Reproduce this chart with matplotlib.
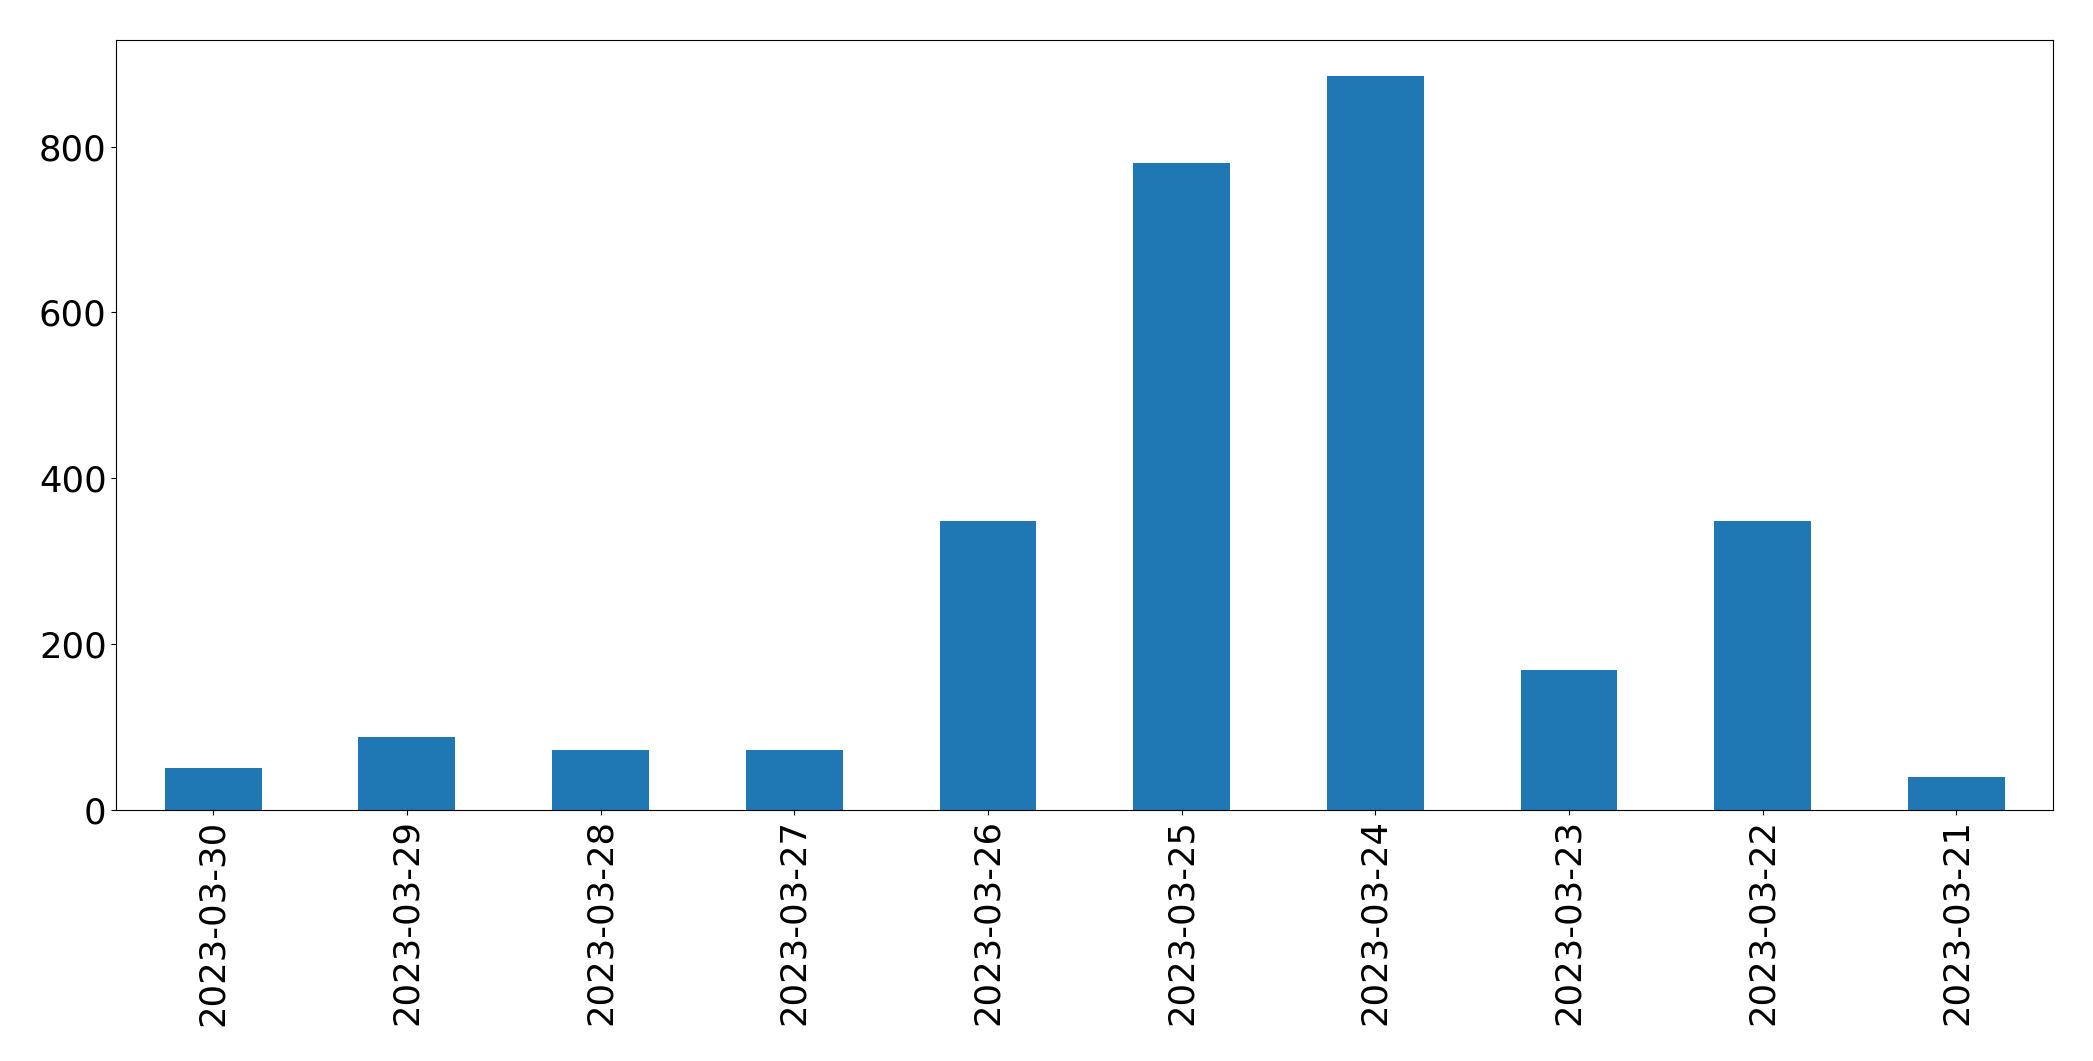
import matplotlib
matplotlib.use("Agg")
import matplotlib.pyplot as plt

dates = ["2023-03-30", "2023-03-29", "2023-03-28", "2023-03-27", "2023-03-26",
         "2023-03-25", "2023-03-24", "2023-03-23", "2023-03-22", "2023-03-21"]
counts = [50, 88, 72, 72, 348, 780, 885, 168, 348, 39]

fig = plt.figure(figsize=(20.93, 10.61), dpi=100)
ax = fig.add_axes([0.0556, 0.237, 0.9254, 0.7256])

xs = range(len(dates))
ax.bar(xs, counts, width=0.5, color="#1f77b4")
ax.set_xlim(-0.5, len(dates) - 0.5)
ax.set_ylim(0, max(counts) * 1.05)
ax.set_yticks([0, 200, 400, 600, 800])
ax.set_xticks(list(xs))
ax.set_xticklabels(dates, rotation=90)
ax.tick_params(labelsize=25.5)

fig.savefig("out.png", dpi=100)
